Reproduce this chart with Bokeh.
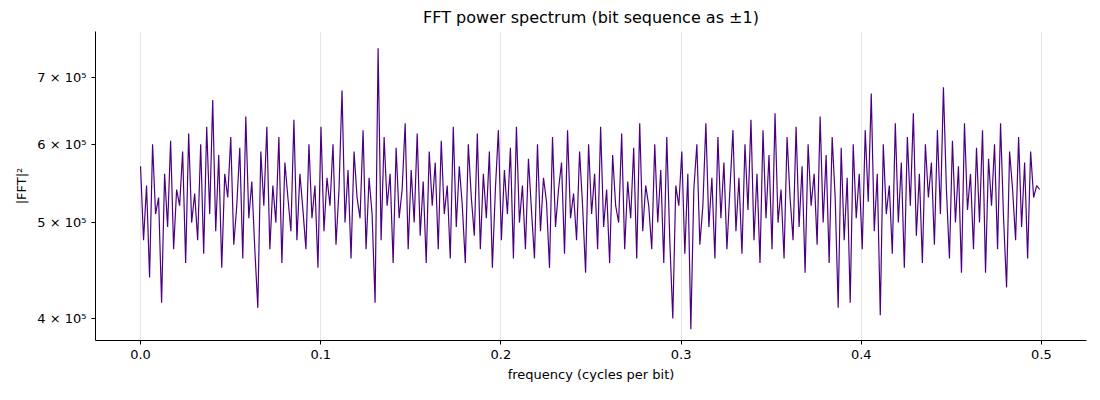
import numpy as np
from bokeh.plotting import figure
from bokeh.models import FixedTicker, Range1d
from bokeh.embed import file_html
from bokeh.resources import INLINE

power_k = [
570,480,545,440,600,510,530,415,560,495,605,470,540,520,590,455,615,500,535,480,
600,465,625,510,665,490,585,450,560,530,610,475,520,595,460,640,505,550,470,410,
590,520,625,470,545,500,610,455,575,530,490,635,480,560,515,470,600,505,545,450,
625,490,555,520,600,475,540,680,500,565,460,590,530,505,620,470,555,510,415,750,
480,610,520,560,455,595,505,540,630,470,565,500,615,485,550,455,590,520,575,470,
605,510,545,460,625,495,570,520,455,600,530,485,615,470,560,505,590,450,540,620,
480,565,510,595,460,625,500,545,470,580,515,460,600,490,555,525,450,610,495,540,
575,465,620,505,535,480,590,520,445,600,510,560,470,625,495,540,455,585,520,500,
615,470,550,505,595,460,630,490,545,520,470,600,500,565,455,610,480,400,545,520,
590,465,560,390,540,600,475,520,630,495,555,460,610,505,575,470,540,620,490,555,
465,600,515,635,480,560,455,620,505,585,470,645,500,540,460,610,530,480,625,495,
570,445,600,520,560,475,640,500,585,455,610,530,410,595,480,555,415,600,505,560,
470,620,525,675,490,560,403,600,510,545,465,630,500,575,450,610,520,645,485,560,
455,600,530,575,475,620,510,685,540,460,605,500,570,445,630,515,560,470,595,500,
620,445,580,520,600,470,630,505,430,590,540,480,610,495,575,460,590,530,545,540,
]
power = np.array(power_k) * 1000.0
freq = np.linspace(0.0, 0.499, len(power))

y_ticks = [4e5, 5e5, 6e5, 7e5]
y_labels = ["4 × 10⁵", "5 × 10⁵", "6 × 10⁵", "7 × 10⁵"]
x_ticks = [0.0, 0.1, 0.2, 0.3, 0.4, 0.5]
x_labels = ["0.0", "0.1", "0.2", "0.3", "0.4", "0.5"]

p = figure(width=1090, height=384, y_axis_type="log", output_backend="svg",
           toolbar_location=None, title="FFT power spectrum (bit sequence as ±1)",
           x_range=Range1d(-0.025, 0.525), y_range=Range1d(380000, 780000),
           min_border_left=95, min_border_right=4, min_border_top=10, min_border_bottom=10)
p.line(freq, power, line_color="#4b0082", line_width=1.2)

p.title.align = "center"
p.title.text_font = "DejaVu Sans"
p.title.text_font_size = "16px"
p.title.text_font_style = "normal"
p.title.text_color = "black"
p.xaxis.axis_label = "frequency (cycles per bit)"
p.yaxis.axis_label = "|FFT|²"
for ax in (p.xaxis, p.yaxis):
    ax.axis_label_text_font = "DejaVu Sans"
    ax.axis_label_text_font_size = "13px"
    ax.axis_label_text_font_style = "normal"
    ax.axis_label_text_color = "black"
    ax.major_label_text_font = "DejaVu Sans"
    ax.major_label_text_font_size = "13px"
    ax.major_label_text_color = "black"
    ax.axis_line_color = "black"
    ax.major_tick_line_color = "black"
    ax.minor_tick_line_color = None
    ax.major_tick_out = 4
    ax.major_tick_in = 0
p.xaxis.ticker = FixedTicker(ticks=x_ticks)
p.xaxis.major_label_overrides = {t: l for t, l in zip(x_ticks, x_labels)}
p.yaxis.ticker = FixedTicker(ticks=y_ticks)
p.yaxis.major_label_overrides = {t: l for t, l in zip(y_ticks, y_labels)}
p.xgrid.grid_line_color = "#e5e5e5"
p.ygrid.grid_line_color = None
p.outline_line_color = None

open("out.html", "w").write(file_html(p, INLINE))
